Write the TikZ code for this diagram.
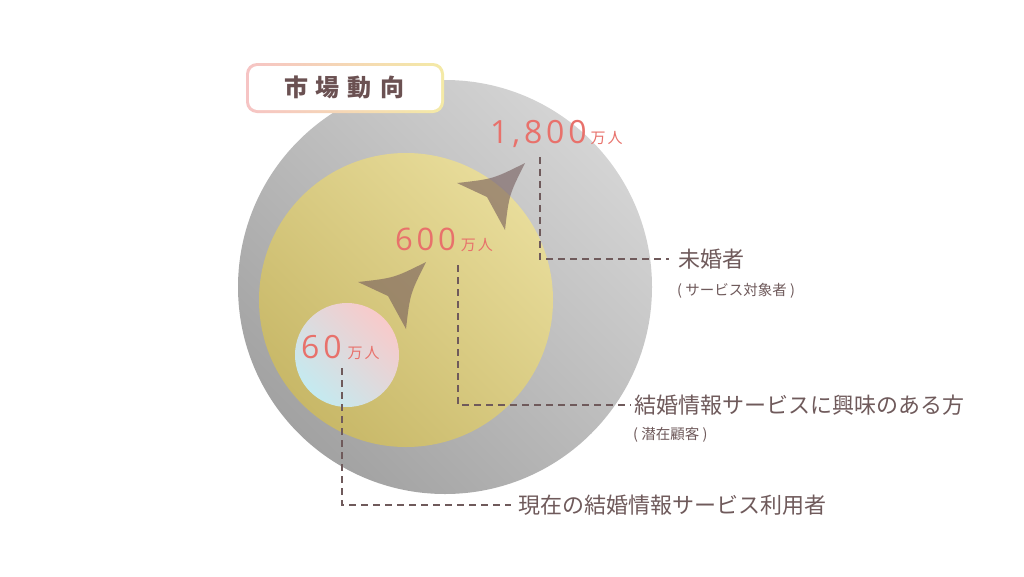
\documentclass[tikz,border=0pt]{standalone}
\usepackage{fontspec}
\newfontfamily\cjk{Noto Sans CJK JP}
\newfontfamily\numfont[LetterSpace=12]{Open Sans}
\definecolor{greyL}{HTML}{D4D4D4}
\definecolor{greyD}{HTML}{A2A2A2}
\definecolor{yelL}{HTML}{E8DC9A}
\definecolor{yelD}{HTML}{C8B868}
\definecolor{pinkL}{HTML}{F8CACA}
\definecolor{cyanL}{HTML}{C4EAF0}
\definecolor{numc}{HTML}{E8716B}
\definecolor{labc}{HTML}{6F5A5B}
\definecolor{titc}{HTML}{6B5152}
\definecolor{arrowc}{HTML}{745B5B}
\definecolor{bpink}{HTML}{F6C4C4}
\definecolor{bcyan}{HTML}{BDE6EA}
\definecolor{byel}{HTML}{F4EAA6}
\tikzset{
  leader/.style={draw=labc, line width=2.7pt, dash pattern=on 7pt off 5pt},
  numlab/.style={text=numc, inner sep=0pt, anchor=base west},
  biglab/.style={text=labc, inner sep=0pt, anchor=west, font=\cjk\fontsize{22}{26}\selectfont},
  sublab/.style={text=labc, inner sep=0pt, anchor=west, font=\cjk\fontsize{14.5}{17}\selectfont},
  chev/.pic={\fill[arrowc, fill opacity=.6] (0,0) .. controls (-32,16) .. (-68,20) -- (-38,34) -- (-20,67) .. controls (-16,32) .. (0,0);}
}
\begin{document}
\begin{tikzpicture}[x=1pt,y=-1pt]
\useasboundingbox (0,0) rectangle (1024,576);
\fill[white] (0,0) rectangle (1024,576);
% circles
\shade[top color=greyL, bottom color=greyD, shading angle=-45] (445,287) circle (207);
\shade[top color=yelL, bottom color=yelD, shading angle=-45] (406,300) circle (147);
\shade[top color=pinkL, bottom color=cyanL, shading angle=-45] (347,355) circle (52);
% arrows
\pic at (525,163) {chev};
\pic at (426,262) {chev};
% title box
\shade[left color=bpink, middle color=bcyan, right color=byel, rounded corners=11pt] (246,63) rectangle (444,113);
\fill[white, rounded corners=8.5pt] (249,66) rectangle (441,110);
\node[text=titc, inner sep=0pt, font=\cjk\bfseries\fontsize{24}{28}\selectfont] (title) at (344,87) {市\hspace{8pt}場\hspace{8pt}動\hspace{8pt}向};
% numbers
\node[numlab] (n1800) at (490,143) {{\numfont\fontsize{32}{36}\selectfont 1,800}\hspace{4pt}{\cjk\fontsize{15}{18}\selectfont 万\hspace{2pt}人}};
\node[numlab] (n600) at (395,250) {{\numfont\fontsize{31}{36}\selectfont 600}\hspace{5pt}{\cjk\fontsize{15}{18}\selectfont 万\hspace{2pt}人}};
\node[numlab] (n60) at (301,358) {{\numfont\fontsize{32}{36}\selectfont 60}\hspace{6pt}{\cjk\fontsize{15}{18}\selectfont 万\hspace{2pt}人}};
% labels
\node[biglab] (lab1) at (678,259) {未婚者};
\node[sublab] (sub1) at (677,291) {( サービス対象者 )};
\node[biglab] (lab2) at (634,405) {結婚情報サービスに興味のある方};
\node[sublab] (sub2) at (633,435) {( 潜在顧客 )};
\node[biglab] (lab3) at (518,505) {現在の結婚情報サービス利用者};
% leaders
\coordinate (c1) at (540,157);
\coordinate (c2) at (458,265);
\coordinate (c3) at (342,368);
\draw[leader, shorten >=9pt] (c1) |- (lab1.west);
\draw[leader, shorten >=3pt] (c2) |- (lab2.west);
\draw[leader, shorten >=7pt] (c3) |- (lab3.west);
\end{tikzpicture}
\end{document}
